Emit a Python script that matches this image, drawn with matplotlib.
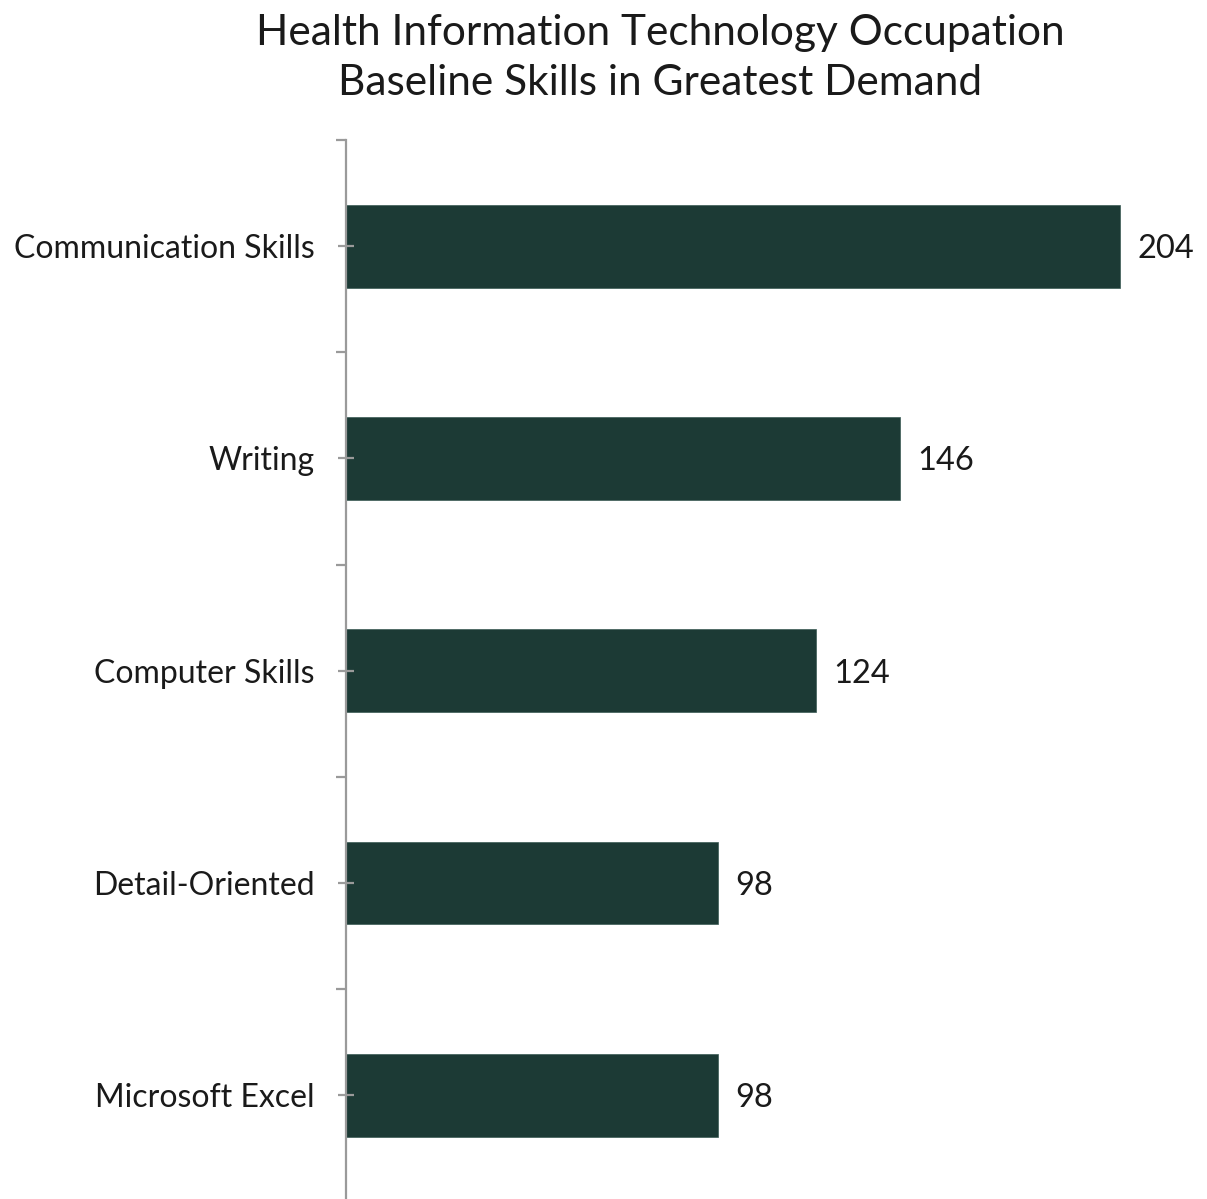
import matplotlib
matplotlib.use("Agg")
import matplotlib.pyplot as plt
import numpy as np

categories = ["Communication Skills", "Writing", "Computer Skills", "Detail-Oriented", "Microsoft Excel"]
values = [204, 146, 124, 98, 98]
title_lines = ["Health Information Technology Occupation", "Baseline Skills in Greatest Demand"]

plt.rcParams['font.family'] = ['Lato', 'DejaVu Sans']

fig = plt.figure(figsize=(12.07, 11.99), dpi=100)
ax = fig.add_axes([346/1207, 1 - 1201.5/1199, 853.7/1207, 1061.5/1199])

bar_color = "#1C3A35"
y = np.arange(len(categories))
ax.barh(y, values, height=0.39, color=bar_color, edgecolor="#3a5a55", linewidth=0.5)
ax.set_ylim(len(categories) - 0.5, -0.5)
ax.set_xlim(0, 225)

for yi, v in zip(y, values):
    ax.text(v + 4.5, yi, str(v), va="center_baseline", ha="left", fontsize=23.5,
            color="#1a1a1a")

for s in ["top", "right", "bottom"]:
    ax.spines[s].set_visible(False)
ax.spines["left"].set_color("#9a9a9a")
ax.spines["left"].set_linewidth(1.6)

ax.set_xticks([])
ax.set_yticks(y)
ax.set_yticklabels(categories, fontsize=23, color="#1a1a1a")
ax.set_yticks(np.arange(-0.5, len(categories), 1.0), minor=True)
ax.tick_params(axis="y", which="major", direction="inout", length=11.5, width=1.6,
               color="#9a9a9a", pad=17)
ax.tick_params(axis="y", which="minor", direction="out", length=7.2, width=1.6,
               color="#9a9a9a")

fig.text(660/1207, 1 - 58/1199, "\n".join(title_lines), ha="center", va="center",
         fontsize=30.5, color="#1a1a1a", linespacing=1.38)

fig.savefig("out.png", dpi=100)
